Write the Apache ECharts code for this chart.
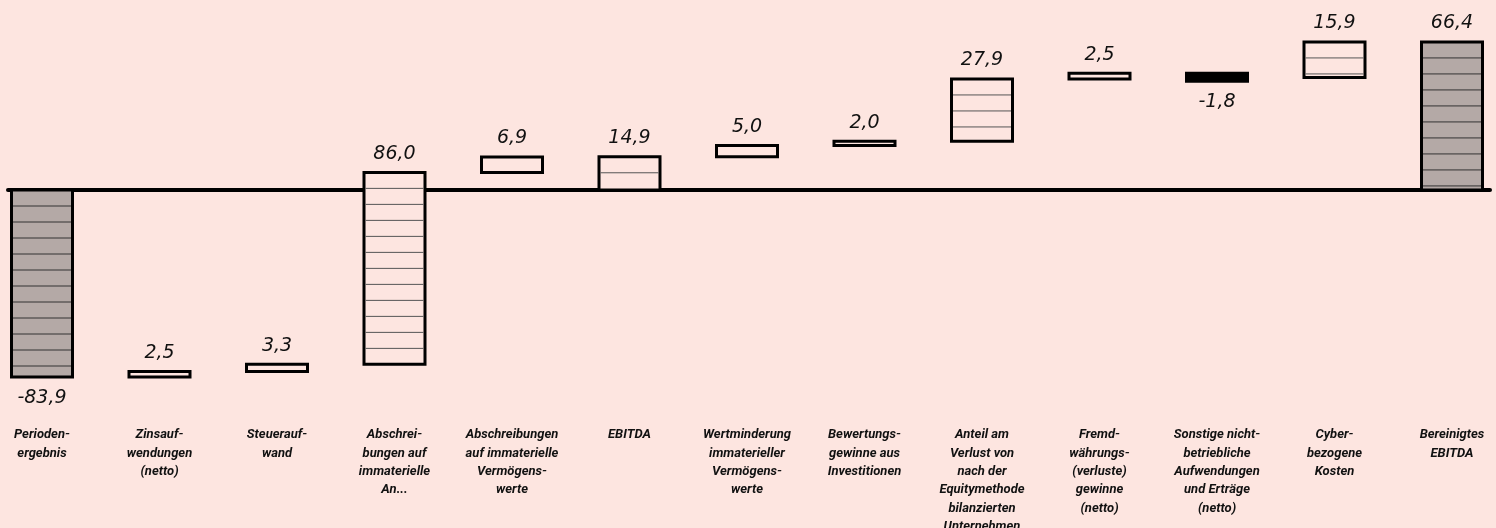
<!DOCTYPE html>
<html>
<head>
<meta charset="utf-8">
<script src="https://cdn.jsdelivr.net/npm/echarts@6/dist/echarts.min.js"></script>
<style>
  html, body { margin: 0; padding: 0; background: #fde5e0; }
  #chart { width: 1496px; height: 528px; }
</style>
</head>
<body>
<div id="chart"></div>
<script>
// categories (line breaks as in the original labels)
const categories = [
  'Perioden-\nergebnis',
  'Zinsauf-\nwendungen\n(netto)',
  'Steuerauf-\nwand',
  'Abschrei-\nbungen auf\nimmaterielle\nAn...',
  'Abschreibungen\nauf immaterielle\nVermögens-\nwerte',
  'EBITDA',
  'Wertminderung\nimmaterieller\nVermögens-\nwerte',
  'Bewertungs-\ngewinne aus\nInvestitionen',
  'Anteil am\nVerlust von\nnach der\nEquitymethode\nbilanzierten\nUnternehmen',
  'Fremd-\nwährungs-\n(verluste)\ngewinne\n(netto)',
  'Sonstige nicht-\nbetriebliche\nAufwendungen\nund Erträge\n(netto)',
  'Cyber-\nbezogene\nKosten',
  'Bereinigtes\nEBITDA'
]
const values = [-83.9, 2.5, 3.3, 86.0, 6.9, 14.9, 5.0, 2.0, 27.9, 2.5, -1.8, 15.9, 66.4]
// 'total' = grey bar from zero, 'subtotal' = open bar from zero, 'step' = floating change
const barKinds = ['total', 'step', 'step', 'step', 'step', 'subtotal', 'step', 'step', 'step', 'step', 'step', 'step', 'total']

const BG = '#fde5e0'
const GREY = '#b4a9a6'

// waterfall ranges
let running = 0
const bars = values.map((v, i) => {
  let lo, hi
  if (barKinds[i] === 'step') {
    lo = Math.min(running, running + v)
    hi = Math.max(running, running + v)
    running += v
  } else {
    lo = Math.min(0, v)
    hi = Math.max(0, v)
    running = v
  }
  return [i, lo, hi, v]
})

const fmt = v => v.toFixed(1).replace('.', ',')

function renderBar(params, api) {
  const i = api.value(0)
  const v = api.value(3)
  const kind = barKinds[i]
  const pTop = api.coord([i, api.value(2)])
  const pBot = api.coord([i, api.value(1)])
  const w = 61
  const x = pTop[0] - w / 2
  const y = pTop[1]
  let h = pBot[1] - pTop[1]

  let fill = BG
  if (kind === 'total') fill = GREY
  else if (kind === 'step' && v < 0) {
    fill = '#000'
    h = Math.max(h, 8) // solid negative blocks keep a minimum height
  }

  const children = [{
    type: 'rect',
    shape: { x, y, width: w, height: h },
    style: { fill, stroke: '#000', lineWidth: 3 }
  }]

  // horizontal stripes
  for (let s = y + 16; s < y + h - 3; s += 16) {
    children.push({
      type: 'line',
      shape: { x1: x + 1.5, y1: s, x2: x + w - 1.5, y2: s },
      style: { stroke: kind === 'total' ? '#333' : '#555', lineWidth: 1 }
    })
  }

  children.push({
    type: 'text',
    style: {
      text: fmt(v),
      x: pTop[0],
      y: v >= 0 ? y - 9 : y + h + 11,
      align: 'center',
      verticalAlign: v >= 0 ? 'bottom' : 'top',
      font: 'italic 19px "DejaVu Sans"',
      fill: '#111'
    }
  })

  return { type: 'group', children }
}

const chart = echarts.init(document.getElementById('chart'))

chart.setOption({
  backgroundColor: BG,
  animation: false,
  grid: [
    { left: -16.75, right: -14.75, top: 11.6, bottom: 115, outerBoundsMode: 'none' },
    { left: 8, right: 6, top: 11.6, bottom: 115, outerBoundsMode: 'none' }
  ],
  xAxis: [
    {
      type: 'category',
      gridIndex: 0,
      data: categories,
      position: 'bottom',
      axisLine: { show: false, onZero: false },
      axisTick: { show: false },
      axisLabel: {
        interval: 0,
        margin: 13,
        color: '#111',
        fontFamily: 'Roboto',
        fontStyle: 'italic',
        fontWeight: 'bold',
        fontSize: 13,
        lineHeight: 18.3,
        align: 'center',
        verticalAlign: 'top'
      },
      splitLine: { show: false }
    },
    {
      // zero line
      type: 'category',
      gridIndex: 1,
      data: categories,
      axisLine: { show: true, onZero: true, lineStyle: { color: '#000', width: 4 } },
      axisTick: { show: false },
      axisLabel: { show: false },
      splitLine: { show: false }
    }
  ],
  yAxis: [
    { type: 'value', gridIndex: 0, min: -100, max: 80, show: false },
    { type: 'value', gridIndex: 1, min: -100, max: 80, show: false }
  ],
  series: [
    {
      type: 'custom',
      xAxisIndex: 0,
      yAxisIndex: 0,
      renderItem: renderBar,
      data: bars,
      z: 5
    }
  ]
})
</script>
</body>
</html>
